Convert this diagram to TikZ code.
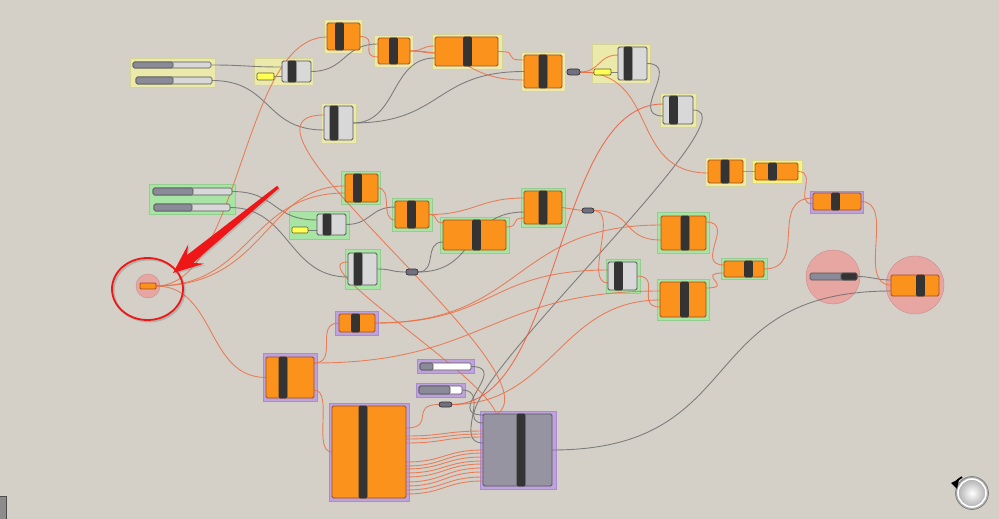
\documentclass[tikz,border=0pt]{standalone}
\usetikzlibrary{positioning, calc, shadows}
\definecolor{canvas}{RGB}{212,208,200}
\definecolor{ghorange}{RGB}{250,146,28}
\definecolor{orangeedge}{RGB}{160,78,25}
\definecolor{bardark}{RGB}{52,52,52}
\definecolor{greybody}{RGB}{216,216,216}
\definecolor{greyedge}{RGB}{85,85,85}
\definecolor{grpyellow}{RGB}{236,234,170}
\definecolor{grpyellowedge}{RGB}{214,212,150}
\definecolor{grpbright}{RGB}{246,244,128}
\definecolor{grpgreen}{RGB}{168,228,164}
\definecolor{grpgreenedge}{RGB}{148,205,144}
\definecolor{grppurple}{RGB}{190,162,222}
\definecolor{grppurpleedge}{RGB}{168,140,205}
\definecolor{grppink}{RGB}{232,166,162}
\definecolor{wireorange}{RGB}{236,112,70}
\definecolor{wirered}{RGB}{238,92,60}
\definecolor{wiregrey}{RGB}{105,105,105}
\definecolor{sliderdark}{RGB}{138,138,152}
\definecolor{sliderlight}{RGB}{216,216,216}
\definecolor{capsulegrey}{RGB}{112,112,130}
\definecolor{panelyellow}{RGB}{255,255,85}
\definecolor{paneledge}{RGB}{95,95,40}
\definecolor{jjgrey}{RGB}{150,148,160}
\definecolor{markred}{RGB}{238,22,22}
\pgfdeclarelayer{bg}
\pgfdeclarelayer{grp}
\pgfdeclarelayer{wires}
\pgfsetlayers{bg,grp,wires,main}

\begin{document}
\begin{tikzpicture}[x=1pt, y=-1pt,
  obody/.style={draw=orangeedge, fill=ghorange, line width=0.8pt, rounded corners=1.5pt, inner sep=0pt, outer sep=0pt},
  gbody/.style={obody, draw=greyedge, fill=greybody},
  barnode/.style={draw=black!80, fill=bardark, line width=0.6pt, rounded corners=1pt, inner sep=0pt, outer sep=0pt, minimum width=8pt},
  panel/.style={draw=paneledge, fill=panelyellow, line width=0.7pt, rounded corners=1pt, inner sep=0pt, outer sep=0pt},
  capsule/.style={draw=black!80, fill=capsulegrey, line width=0.7pt, rounded corners=2.5pt, inner sep=0pt, outer sep=0pt},
  strack/.style={draw=greyedge, fill=sliderlight, line width=0.7pt, rounded corners=1.5pt, inner sep=0pt, outer sep=0pt},
  sknob/.style={strack, fill=sliderdark},
  grpY/.style={fill=grpyellow, draw=grpyellowedge, line width=0.6pt},
  grpG/.style={fill=grpgreen, draw=grpgreenedge, line width=0.6pt},
  grpP/.style={fill=grppurple, draw=grppurpleedge, line width=0.6pt},
  pinkdisc/.style={circle, fill=grppink, draw=grppink!85!black, line width=0.4pt, inner sep=0pt},
  ow/.style={wireorange, line width=0.9pt, opacity=0.85},
  gw/.style={wiregrey, line width=0.9pt, opacity=0.8}]

  % Canvas
  \useasboundingbox (0,0) rectangle (999,519);
  \begin{pgfonlayer}{bg}
    \fill[canvas] (0,0) rectangle (999,519);
  \end{pgfonlayer}

  % Groups
  \begin{pgfonlayer}{grp}
    \foreach \xa/\ya/\xb/\yb in {130/58/215/87, 254/58/313/85, 324/19/362/53, 374/35/413/67,
        432/34/502/69, 321/103/356/143, 521/52/565/91, 592/44/650/83, 660/93/696/127, 705/157/746/186}
      \filldraw[grpY] (\xa,\ya) rectangle (\xb,\yb);
    \filldraw[grpY, fill=grpbright] (752,160) rectangle (802,183);
    \foreach \xa/\ya/\xb/\yb in {149/184/235/214, 289/211/349/239, 341/171/380/204, 392/198/432/231,
        440/217/509/253, 345/249/380/289, 521/188/565/227, 657/212/709/253, 606/259/640/293,
        657/279/709/320, 721/258/767/279}
      \filldraw[grpG] (\xa,\ya) rectangle (\xb,\yb);
    \foreach \xa/\ya/\xb/\yb in {810/191/863/213, 335/311/378/335, 263/353/317/401, 329/403/409/501,
        417/359/474/373, 416/383/465/397, 480/411/556/489}
      \filldraw[grpP] (\xa,\ya) rectangle (\xb,\yb);
    \node[pinkdisc, minimum size=54pt] (BBd) at (833,277) {};
    \node[pinkdisc, minimum size=58pt] (CCd) at (915,285) {};
    \node[pinkdisc, minimum size=24pt] (Rd) at (148,286) {};
  \end{pgfonlayer}

  % Top row
  \node[strack, minimum width=78pt, minimum height=6pt] (A1) at (172,65) {};
  \node[sknob, minimum width=40pt, minimum height=6pt] (A1k) at (153,65) {};
  \node[strack, minimum width=76pt, minimum height=7pt] (A2) at (174,80.5) {};
  \node[sknob, minimum width=37pt, minimum height=7pt] (A2k) at (154.5,80.5) {};
  \node[panel, minimum width=17pt, minimum height=7pt] (Bp) at (265.5,76.5) {};
  \node[gbody, minimum width=29pt, minimum height=21pt] (Bc) at (296.5,71.5) {};
  \node[barnode, minimum height=21pt] (Bcb) at (292,71.5) {};
  \node[obody, minimum width=33pt, minimum height=27pt] (C) at (343.5,36.5) {};
  \node[barnode, minimum height=27pt] (Cb) at (339.5,36.5) {};
  \node[obody, minimum width=32pt, minimum height=26pt] (D) at (394,51) {};
  \node[barnode, minimum height=26pt] (Db) at (393.5,51) {};
  \node[obody, minimum width=63pt, minimum height=29pt] (E) at (466.5,51.5) {};
  \node[barnode, minimum height=29pt] (Eb) at (467.5,51.5) {};
  \node[gbody, minimum width=29pt, minimum height=34pt] (F) at (338.5,123) {};
  \node[barnode, minimum height=34pt] (Fb) at (334,123) {};
  \node[obody, minimum width=38pt, minimum height=33pt] (G) at (543,71.5) {};
  \node[barnode, minimum height=33pt] (Gb) at (543,71.5) {};
  \node[capsule, minimum width=13pt, minimum height=6pt] (H) at (573.5,72) {};
  \node[panel, minimum width=17pt, minimum height=6pt] (Ip) at (602.5,72) {};
  \node[gbody, minimum width=29pt, minimum height=33pt] (Ic) at (632.5,63.5) {};
  \node[barnode, minimum height=33pt] (Icb) at (628,63.5) {};
  \node[gbody, minimum width=30pt, minimum height=28pt] (J) at (678,110) {};
  \node[barnode, minimum height=28pt] (Jb) at (673.5,110) {};

  % Middle row
  \node[strack, minimum width=79pt, minimum height=7pt] (K1) at (192.5,191.5) {};
  \node[sknob, minimum width=40pt, minimum height=7pt] (K1k) at (173,191.5) {};
  \node[strack, minimum width=76pt, minimum height=7pt] (K2) at (192,207.5) {};
  \node[sknob, minimum width=38pt, minimum height=7pt] (K2k) at (173,207.5) {};
  \node[panel, minimum width=16pt, minimum height=6pt] (Lp) at (300,230) {};
  \node[gbody, minimum width=29pt, minimum height=21pt] (Lc) at (331.5,224.5) {};
  \node[barnode, minimum height=21pt] (Lcb) at (327,224.5) {};
  \node[obody, minimum width=33pt, minimum height=28pt] (M) at (361.5,188) {};
  \node[barnode, minimum height=28pt] (Mb) at (357.5,188) {};
  \node[obody, minimum width=34pt, minimum height=27pt] (N) at (412,214.5) {};
  \node[barnode, minimum height=27pt] (Nb) at (411.5,214.5) {};
  \node[obody, minimum width=63pt, minimum height=30pt] (O) at (474.5,235) {};
  \node[barnode, minimum height=30pt] (Ob) at (476.5,235) {};
  \node[gbody, minimum width=29pt, minimum height=32pt] (P) at (362.5,269) {};
  \node[barnode, minimum height=32pt] (Pb) at (358,269) {};
  \node[capsule, minimum width=12pt, minimum height=6pt] (Q) at (412,272) {};
  \node[obody, minimum width=16pt, minimum height=6pt, rounded corners=1pt] (R) at (148,286) {};
  \node[obody, minimum width=38pt, minimum height=33pt] (S) at (543,207.5) {};
  \node[barnode, minimum height=33pt] (Sb) at (543,207.5) {};
  \node[capsule, minimum width=12pt, minimum height=5pt] (T) at (588,210.5) {};
  \node[obody, minimum width=35pt, minimum height=23pt] (U) at (725.5,171.5) {};
  \node[barnode, minimum height=23pt] (Ub) at (725,171.5) {};
  \node[obody, minimum width=43pt, minimum height=17pt] (V) at (776.5,171.5) {};
  \node[barnode, minimum height=17pt] (Vb) at (772.5,171.5) {};
  \node[obody, minimum width=48pt, minimum height=17pt] (W) at (837,201.5) {};
  \node[barnode, minimum height=17pt] (Wb) at (835.5,201.5) {};
  \node[obody, minimum width=45pt, minimum height=34pt] (X) at (683.5,233) {};
  \node[barnode, minimum height=34pt] (Xb) at (685,233) {};
  \node[gbody, minimum width=29pt, minimum height=28pt] (Y) at (622.5,276) {};
  \node[barnode, minimum height=28pt] (Yb) at (618.5,276) {};
  \node[obody, minimum width=46pt, minimum height=35pt] (Z) at (683,299.5) {};
  \node[barnode, minimum height=35pt] (Zb) at (684.5,299.5) {};
  \node[obody, minimum width=40pt, minimum height=16pt] (AA) at (744,269) {};
  \node[barnode, minimum height=16pt] (AAb) at (748.5,269) {};
  \node[sknob, minimum width=47pt, minimum height=7pt] (BB) at (833.5,276.5) {};
  \node[sknob, fill=bardark, minimum width=16pt, minimum height=7pt] (BBk) at (849,276.5) {};
  \node[obody, minimum width=48pt, minimum height=21pt] (CC) at (915,285.5) {};
  \node[barnode, minimum height=21pt] (CCb) at (920.5,285.5) {};

  % Bottom row
  \node[obody, minimum width=36pt, minimum height=18pt] (DD) at (357,323) {};
  \node[barnode, minimum height=18pt] (DDb) at (355.5,323) {};
  \node[obody, minimum width=48pt, minimum height=41pt] (EE) at (290,377.5) {};
  \node[barnode, minimum height=41pt] (EEb) at (283,377.5) {};
  \node[obody, minimum width=74pt, minimum height=92pt] (FF) at (369,452) {};
  \node[barnode, minimum height=92pt] (FFb) at (363,452) {};
  \node[strack, fill=white, minimum width=51pt, minimum height=7pt] (GG) at (445.5,366.5) {};
  \node[sknob, minimum width=13pt, minimum height=7pt] (GGk) at (426.5,366.5) {};
  \node[strack, fill=white, minimum width=43pt, minimum height=8pt] (HH) at (440.5,390) {};
  \node[sknob, minimum width=31pt, minimum height=8pt] (HHk) at (434.5,390) {};
  \node[capsule, minimum width=13pt, minimum height=5pt] (II) at (445.5,404.5) {};
  \node[gbody, fill=jjgrey, minimum width=69pt, minimum height=72pt] (JJ) at (517.5,450) {};
  \node[barnode, minimum height=72pt] (JJb) at (521,450) {};

  \begin{pgfonlayer}{wires}
    % Grey wires
    \draw[gw] (A1.east) .. controls +(35,0) and +(-35,0) .. ($(Bc.west)+(0,-4.5)$);
    \draw[gw] (A2.east) .. controls +(60,0) and +(-60,0) .. ($(F.west)+(0,7)$);
    \draw[gw] (Bp.east) -- ($(Bc.west)+(0,5)$);
    \draw[gw] (Bc.east) .. controls +(35,0) and +(-35,0) .. ($(D.west)+(0,-7)$);
    \draw[gw] (F.east) .. controls +(45,0) and +(-45,0) .. ($(E.west)+(0,6.5)$);
    \draw[gw] (F.east) .. controls +(90,0) and +(-90,0) .. (G.west);
    \draw[gw] (Ip.east) -- ($(Ic.west)+(0,8.5)$);
    \draw[gw] (Ic.east) .. controls +(35,0) and +(-35,0) .. ($(J.west)+(0,6)$);
    \draw[gw] (J.east) .. controls +(70,0) and +(-70,0) .. ($(JJ.west)+(0,-27)$);
    \draw[gw] (K1.east) .. controls +(45,0) and +(-45,0) .. ($(Lc.west)+(0,-4.5)$);
    \draw[gw] (K2.east) .. controls +(60,0) and +(-60,0) .. ($(P.west)+(0,8)$);
    \draw[gw] (Lp.east) -- ($(Lc.west)+(0,5.5)$);
    \draw[gw] (Lc.east) .. controls +(25,0) and +(-25,0) .. ($(N.west)+(0,-7.5)$);
    \draw[gw] (P.east) .. controls +(15,0) and +(-15,0) .. (Q.west);
    \draw[gw] (Q.east) .. controls +(20,0) and +(-20,0) .. ($(O.west)+(0,7)$);
    \draw[gw] (Q.east) .. controls +(60,0) and +(-60,0) .. ($(S.west)+(0,4.5)$);
    \draw[gw] (GG.east) .. controls +(40,0) and +(-40,0) .. ($(JJ.west)+(0,-35)$);
    \draw[gw] (HH.east) .. controls +(30,0) and +(-30,0) .. ($(JJ.west)+(0,-7)$);
    \draw[gw] (JJ.east) .. controls +(200,0) and +(-200,0) .. ($(CC.west)+(0,5.5)$);
    \draw[gw] (BB.east) .. controls +(15,0) and +(-15,0) .. ($(CC.west)+(0,-5.5)$);
    % Orange wires
    \draw[ow] (C.east) .. controls +(20,0) and +(-20,0) .. ($(D.west)+(0,6)$);
    \draw[ow] (D.east) .. controls +(15,0) and +(-15,0) .. ($(E.west)+(0,-5.5)$);
    \draw[ow] (D.east) .. controls +(15,0) and +(-15,0) .. ($(E.west)+(0,1.5)$);
    \draw[ow] (E.east) .. controls +(25,0) and +(-25,0) .. ($(G.west)+(0,-11.5)$);
    \draw[ow] (D.east) .. controls +(60,0) and +(-60,0) .. ($(G.west)+(0,8.5)$);
    \draw[ow] (H.east) .. controls +(20,0) and +(-20,0) .. ($(Ic.west)+(0,-8.5)$);
    \draw[ow] (H.east) -- (Ip.west);
    \draw[ow] (H.east) .. controls +(80,0) and +(-80,0) .. ($(U.west)+(0,1.5)$);
    \draw[ow] (R.east) .. controls +(85,0) and +(-85,0) .. ($(C.west)+(0,0.5)$);
    \draw[ow] (R.east) .. controls +(110,0) and +(-80,0) .. ($(M.west)+(0,-2)$);
    \draw[ow] (R.east) .. controls +(95,0) and +(-95,0) .. ($(M.west)+(0,5)$);
    \draw[ow] (R.east) .. controls +(60,0) and +(-60,0) .. (EE.west);
    \draw[ow] (M.east) .. controls +(15,0) and +(-15,0) .. ($(N.west)+(0,5.5)$);
    \draw[ow] (N.east) .. controls +(10,0) and +(-10,0) .. ($(O.west)+(0,-12)$);
    \draw[ow] (N.east) .. controls +(45,0) and +(-45,0) .. ($(S.west)+(0,-9.5)$);
    \draw[ow] ($(O.east)+(0,-8)$) .. controls +(15,0) and +(-15,0) .. ($(S.west)+(0,10.5)$);
    \draw[ow] (S.east) -- (T.west);
    \draw[ow] (T.east) .. controls +(40,0) and +(-40,0) .. ($(X.west)+(0,7)$);
    \draw[ow] (T.east) .. controls +(25,0) and +(-25,0) .. ($(Y.west)+(0,7)$);
    \draw[ow] (Y.east) .. controls +(25,0) and +(-25,0) .. ($(Z.west)+(0,7.5)$);
    \draw[ow] ($(X.east)+(0,-11)$) .. controls +(30,0) and +(-30,0) .. ($(AA.west)+(0,-4)$);
    \draw[ow] ($(Z.east)+(0,-11.5)$) .. controls +(30,0) and +(-30,0) .. ($(AA.west)+(0,4)$);
    \draw[ow] (AA.east) .. controls +(45,0) and +(-45,0) .. ($(W.west)+(0,-3.5)$);
    \draw[ow] (U.east) -- (V.west);
    \draw[ow] (V.east) .. controls +(20,0) and +(-20,0) .. ($(W.west)+(0,2.5)$);
    \draw[ow] (W.east) .. controls +(35,0) and +(-35,0) .. ($(CC.west)+(0,-0.5)$);
    \draw[ow] (DD.east) .. controls +(150,0) and +(-150,0) .. ($(X.west)+(0,-8)$);
    \draw[ow] (DD.east) .. controls +(120,0) and +(-120,0) .. ($(Y.west)+(0,-6)$);
    \draw[ow] ($(EE.east)+(0,-14.5)$) .. controls +(170,0) and +(-170,0) .. ($(Z.west)+(0,-8.5)$);
    \draw[ow] ($(EE.east)+(0,-14.5)$) .. controls +(25,0) and +(-25,0) .. (DD.west);
    \draw[ow] ($(EE.east)+(0,12.5)$) .. controls +(20,0) and +(-20,0) .. (FF.west);
    \draw[ow] ($(FF.east)+(0,-24)$) .. controls +(30,0) and +(-30,0) .. (II.west);
    \foreach \fa/\jb in {-16/-19, -13/-16, -9/-13, 10/0, 14/3, 17/7, 21/11, 25/14, 30/18, 34/22, 38/27, 42/31}
      \draw[ow] ($(FF.east)+(0,\fa)$) .. controls +(38,0) and +(-38,0) .. ($(JJ.west)+(0,\jb)$);
    \draw[ow] (II.east) .. controls +(100,0) and +(-100,0) .. ($(Z.west)+(0,0.5)$);
    \draw[ow] ($(F.west)+(0,-8)$) .. controls (200,115) and (600,400) .. ($(JJ.west)+(0,-31)$);
    \draw[ow] ($(P.west)+(0,-7)$) .. controls (290,262) and (560,420) .. ($(JJ.west)+(0,-23)$);
    \draw[ow, wirered] (II.east) .. controls +(110,0) and +(-110,0) .. ($(J.west)+(0,-6)$);
  \end{pgfonlayer}

  % Annotation
  \draw[black, opacity=0.15, line width=2pt] (149,290.5) ellipse [x radius=35.5pt, y radius=31pt];
  \draw[markred, line width=1.8pt] (147.5,289) ellipse [x radius=35.5pt, y radius=31pt];
  \coordinate (arrtail) at (278,187);
  \coordinate (arrtip) at (173,273);
  \coordinate (arrhb) at ($(arrtip)!30pt!(arrtail)$);
  \coordinate (arrnk) at ($(arrtip)!22pt!(arrtail)$);
  \fill[markred, drop shadow={opacity=0.3, shadow xshift=1.5pt, shadow yshift=-1.5pt}]
    ($(arrtail)!1.5pt!90:(arrtip)$) -- ($(arrnk)!5pt!90:(arrtip)$) -- ($(arrhb)!12.5pt!90:(arrtip)$)
    -- (arrtip) -- ($(arrhb)!12.5pt!-90:(arrtip)$) -- ($(arrnk)!5pt!-90:(arrtip)$)
    -- ($(arrtail)!1.5pt!-90:(arrtip)$) -- cycle;

  % Navigation widget and edge
  \shade[inner color=white, outer color=black!35] (972,493) circle[radius=16pt];
  \draw[white, line width=1.6pt] (972,493) circle[radius=14pt];
  \draw[black!55, line width=0.6pt] (972,493) circle[radius=16.5pt];
  \draw[black, line width=1.8pt] (956,487) .. controls (956,481) .. (962,477);
  \fill[black] (951,483) -- (959,479) -- (957,489) -- cycle;
  \filldraw[fill=black!45, draw=black!70] (-1,496) rectangle (6,520);
\end{tikzpicture}
\end{document}
